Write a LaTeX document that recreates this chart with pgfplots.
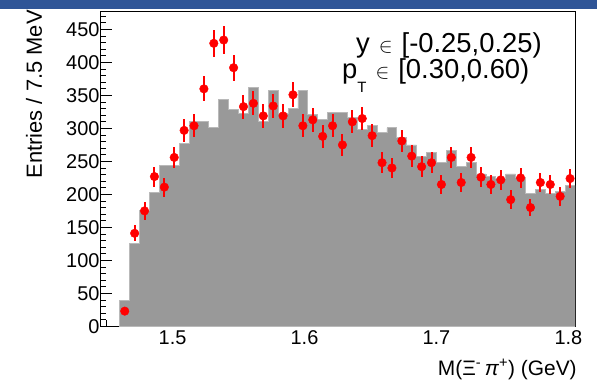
\documentclass[border=0pt]{standalone}
\usepackage{pgfplots}
\pgfplotsset{compat=1.18}
\usepackage{pgfplotstable}
\usepackage{fontspec}
\setmainfont{Liberation Sans}
\definecolor{histgray}{RGB}{153,153,153}
\definecolor{histedge}{RGB}{185,185,185}
\definecolor{banner}{RGB}{47,85,151}
\definecolor{ptred}{RGB}{255,0,0}
\pgfplotstableread{
x y e
1.46375 23 4.8
1.47125 141 11.9
1.47875 175 13.2
1.48625 227 15.1
1.49375 211 14.5
1.50125 256 16.0
1.50875 297 17.2
1.51625 304 17.4
1.52375 360 19.0
1.53125 429 20.7
1.53875 434 20.8
1.54625 392 19.8
1.55375 333 18.2
1.56125 338 18.4
1.56875 319 17.9
1.57625 334 18.3
1.58375 319 17.9
1.59125 351 18.7
1.59875 304 17.4
1.60625 313 17.7
1.61375 288 17.0
1.62125 304 17.4
1.62875 275 16.6
1.63625 310 17.6
1.64375 315 17.7
1.65125 289 17.0
1.65875 248 15.7
1.66625 240 15.5
1.67375 281 16.8
1.68125 258 16.1
1.68875 242 15.6
1.69625 248 15.7
1.70375 215 14.7
1.71125 256 16.0
1.71875 218 14.8
1.72625 256 16.0
1.73375 226 15.0
1.74125 215 14.7
1.74875 222 14.9
1.75625 192 13.9
1.76375 225 15.0
1.77125 180 13.4
1.77875 218 14.8
1.78625 215 14.7
1.79375 197 14.0
1.80125 224 15.0
}\datapoints
\begin{document}
\begin{tikzpicture}[x=1bp,y=1bp]
\path[use as bounding box] (0,0) rectangle (597,380);
\fill[banner] (0,371.3) rectangle (597,380);
\begin{axis}[
  at={(100bp,53.7bp)}, anchor=south west,
  scale only axis, width=475bp, height=315.3bp,
  xmin=1.445, xmax=1.805, ymin=0, ymax=478,
  xtick={1.5,1.6,1.7,1.8}, xticklabels={1.5,1.6,1.7,1.8},
  minor xtick={1.45,1.46,1.47,1.48,1.49,1.51,1.52,1.53,1.54,1.55,1.56,1.57,1.58,1.59,1.61,1.62,1.63,1.64,1.65,1.66,1.67,1.68,1.69,1.71,1.72,1.73,1.74,1.75,1.76,1.77,1.78,1.79},
  ytick={0,50,100,150,200,250,300,350,400,450},
  minor ytick={10,20,30,40,60,70,80,90,110,120,130,140,160,170,180,190,210,220,230,240,260,270,280,290,310,320,330,340,360,370,380,390,410,420,430,440,460,470},
  tick align=inside, xtick pos=bottom, ytick pos=left,
  major tick length=12bp, minor tick length=6bp,
  tick style={black, line width=0.8bp},
  axis line style={line width=0.8bp},
  tick label style={font=\fontsize{20}{24}\selectfont},
  yticklabel style={xshift=3bp},
  xticklabel style={yshift=-1bp},
  /pgf/number format/assume math mode=true,
  xlabel={M(Ξ\textsuperscript{-}\,\textit{π}\textsuperscript{+}) (GeV)},
  xlabel style={at={(axis description cs:1.004,-0.1545)}, anchor=base east, inner sep=0pt, font=\fontsize{21}{25}\selectfont},
  ylabel={Entries / 7.5 MeV},
  ylabel style={at={(axis description cs:-0.139,1.003)}, anchor=east, inner sep=0pt, font=\fontsize{22}{26}\selectfont},
]
\addplot[fill=histgray, draw=histedge, line width=0.8bp, const plot] coordinates {
(1.46,0) (1.46,39) (1.4675,125) (1.475,175) (1.4825,203) (1.49,244) (1.4975,244)
(1.505,277) (1.5125,310) (1.52,310) (1.5275,301) (1.535,344) (1.5425,329)
(1.55,323) (1.5575,362) (1.565,310) (1.5725,358) (1.58,323) (1.5875,330)
(1.595,357) (1.6025,321) (1.61,313) (1.6175,324) (1.625,324) (1.6325,316)
(1.64,298) (1.6475,305) (1.655,294) (1.6625,301) (1.67,286) (1.6775,275)
(1.685,257) (1.6925,263) (1.7,249) (1.7075,267) (1.715,243) (1.7225,249)
(1.73,231) (1.7375,227) (1.745,224) (1.7525,231) (1.76,226) (1.7675,202)
(1.775,207) (1.7825,201) (1.79,204) (1.7975,213) (1.805,213) (1.805,0)
} \closedcycle;
\addplot[ptred, draw=ptred, only marks, mark=none, forget plot,
  error bars/.cd, y dir=both, y explicit, error mark=none,
  error bar style={line width=2bp, ptred, solid}]
  table[x=x, y=y, y error=e] {\datapoints};
\addplot[ptred, only marks, mark=*, mark size=4.3bp, mark options={fill=ptred, draw=ptred}]
  table[x=x, y=y] {\datapoints};
\node[anchor=base west, inner sep=0pt, font=\fontsize{27.5}{30}\selectfont]
  at (axis description cs:0.5389,0.869) {y\hspace{9bp}{\fontsize{22}{22}\selectfont$\in$}\hspace{9bp}[-0.25,0.25)};
\node[anchor=base west, inner sep=0pt, font=\fontsize{27.5}{30}\selectfont]
  at (axis description cs:0.5095,0.7860) {p\raisebox{-0.5em}{\fontsize{15}{15}\selectfont T}\hspace{9bp}{\fontsize{22}{22}\selectfont$\in$}\hspace{9bp}[0.30,0.60)};
\end{axis}
\end{tikzpicture}
\end{document}
